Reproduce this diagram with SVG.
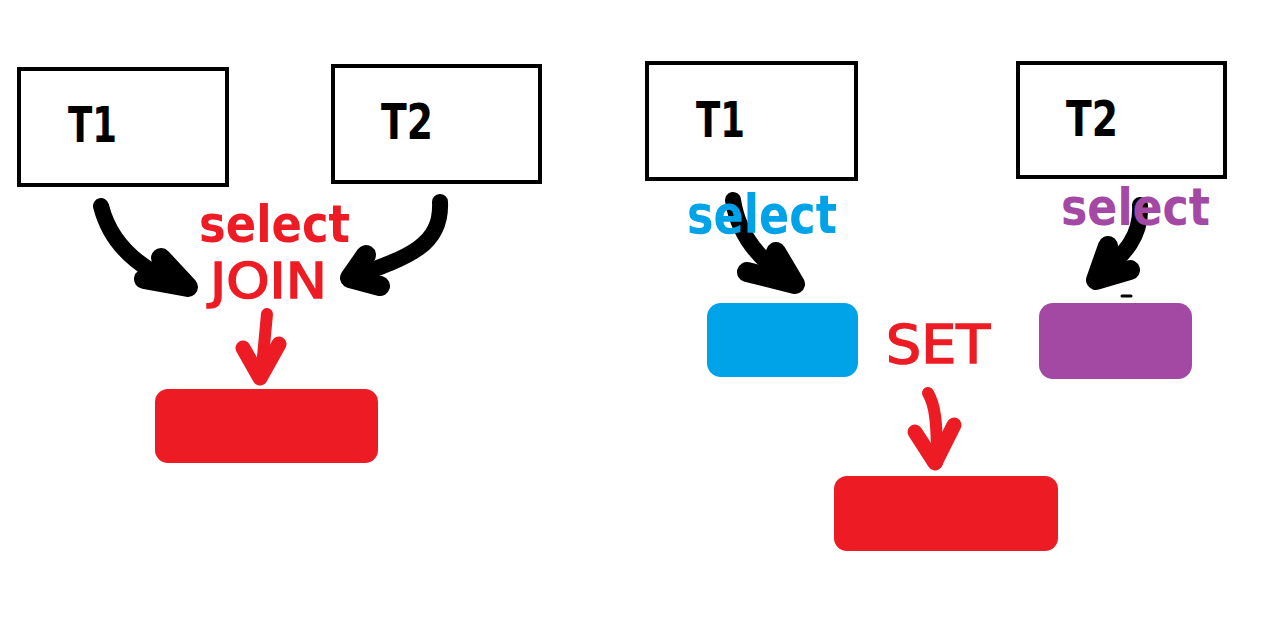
<svg xmlns="http://www.w3.org/2000/svg" width="1272" height="631" viewBox="0 0 1272 631">
<style>
.tbl{fill:#fff;stroke:#000;stroke-width:4}
.tt{font-family:"DejaVu Sans",sans-serif;font-weight:bold;fill:#000}
.lbl{font-family:"DejaVu Sans",sans-serif;font-weight:bold}
.op{font-family:"DejaVu Sans",sans-serif;font-weight:normal;fill:#ED1C24;stroke:#ED1C24;stroke-width:1.6}
.blk{fill:none;stroke:#000;stroke-width:16;stroke-linecap:round;stroke-linejoin:round}
.hd{fill:none;stroke:#000;stroke-width:20;stroke-linecap:round;stroke-linejoin:round}
.red{fill:none;stroke:#ED1C24;stroke-width:12;stroke-linecap:round;stroke-linejoin:round}
.rhd{fill:none;stroke:#ED1C24;stroke-width:15;stroke-linecap:round;stroke-linejoin:round}
</style>
<rect width="1272" height="631" fill="#fff"/>
<g id="join-t1"><rect class="tbl" x="19" y="69" width="208" height="116"/><text class="tt" x="68" y="142" font-size="49" textLength="49" lengthAdjust="spacingAndGlyphs">T1</text></g>
<g id="join-t2"><rect class="tbl" x="333" y="66" width="207" height="116"/><text class="tt" x="381" y="139" font-size="49" textLength="52" lengthAdjust="spacingAndGlyphs">T2</text></g>
<g id="join-result"><rect x="155" y="389" width="223" height="74" rx="13" fill="#ED1C24"/></g>
<g id="set-t1"><rect class="tbl" x="647" y="63" width="209" height="116"/><text class="tt" x="696" y="137" font-size="49" textLength="49" lengthAdjust="spacingAndGlyphs">T1</text></g>
<g id="set-t2"><rect class="tbl" x="1018" y="63" width="207" height="114"/><text class="tt" x="1066" y="136" font-size="49" textLength="52" lengthAdjust="spacingAndGlyphs">T2</text></g>
<g id="set-sel1"><rect x="707" y="303" width="151" height="74" rx="14" fill="#00A2E8"/></g>
<g id="set-sel2"><rect x="1039" y="303" width="153" height="76" rx="14" fill="#A349A4"/></g>
<g id="set-result"><rect x="834" y="476" width="224" height="75" rx="13" fill="#ED1C24"/></g>
<g id="connectors">
<path class="blk" d="M101,206 Q115,262 186,287"/>
<path class="hd" d="M161,258 L188,287 L144,279"/>
<path class="blk" d="M440,202 C442,245 410,257 352,277"/>
<path class="hd" d="M366,255 L350,278 L380,286"/>
<path class="red" d="M267,314 L261,378"/>
<path class="rhd" d="M243,348 L260,378 L279,344"/>
<path class="blk" d="M733,200 Q740,248 790,280"/>
<path class="hd" d="M776,252 L795,284 L747,272"/>
<path class="blk" d="M1140,205 C1142,240 1120,257 1098,278"/>
<path class="hd" d="M1108,246 L1096,280 L1130,270"/>
<path d="M1122,296 L1131,296" stroke="#000" stroke-width="3" stroke-linecap="round"/>
<path class="red" d="M928,393 C935,405 937,420 937,463"/>
<path class="rhd" d="M915,432 L935,463 L954,425"/>
</g>
<g id="labels">
<text class="lbl" x="199" y="242" font-size="52" fill="#ED1C24" textLength="151" lengthAdjust="spacingAndGlyphs">select</text>
<text class="op" x="210" y="298" font-size="49" textLength="117" lengthAdjust="spacingAndGlyphs">JOIN</text>
<text class="lbl" x="687" y="233" font-size="54" fill="#00A2E8" textLength="150" lengthAdjust="spacingAndGlyphs">select</text>
<text class="lbl" x="1061" y="225" font-size="52" fill="#A349A4" textLength="149" lengthAdjust="spacingAndGlyphs">select</text>
<text class="op" x="886" y="363" font-size="54" textLength="104" lengthAdjust="spacingAndGlyphs">SET</text>
</g>
</svg>
